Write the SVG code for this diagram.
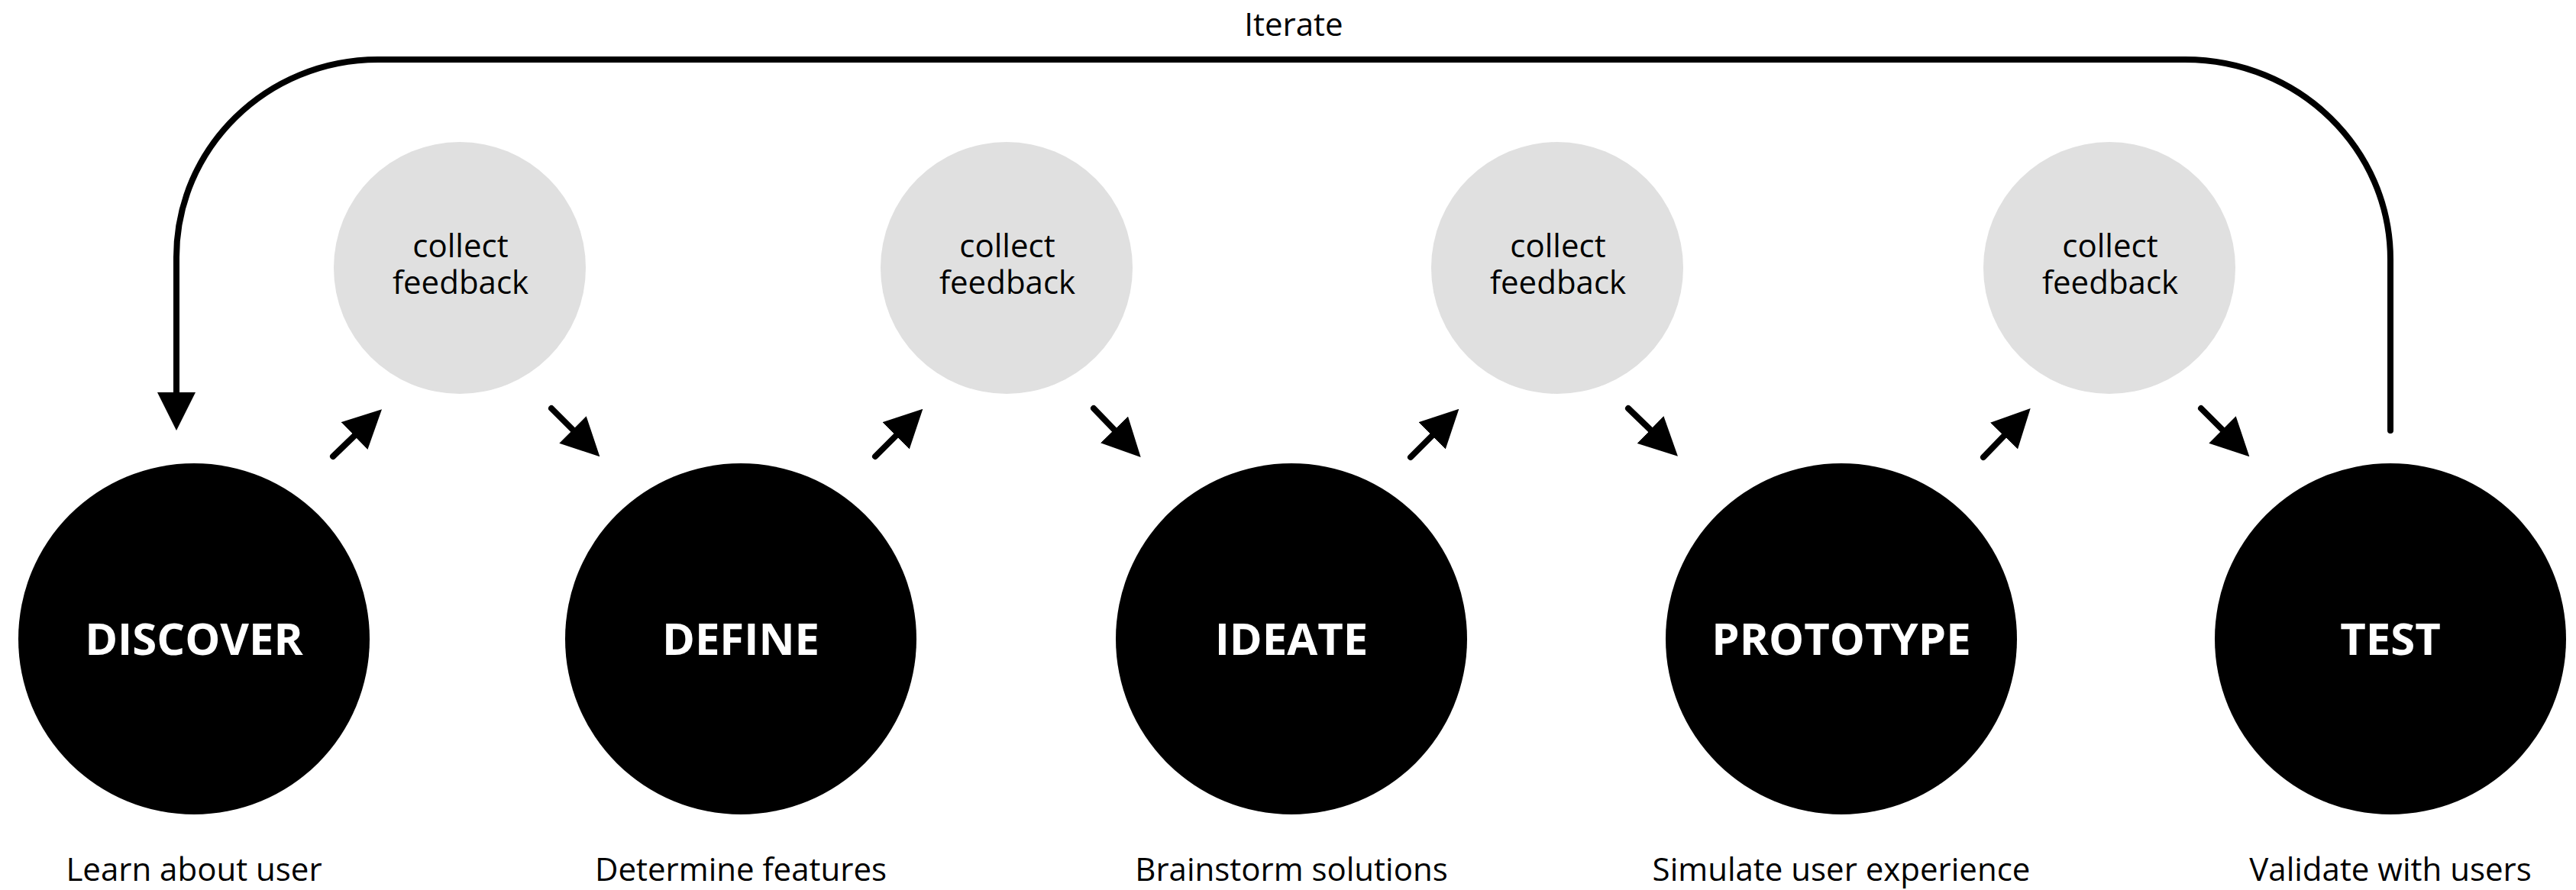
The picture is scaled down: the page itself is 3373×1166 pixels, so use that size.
<svg xmlns="http://www.w3.org/2000/svg" width="3373" height="1166" viewBox="0 0 3373 1166">
<style>
  .stage { fill: #000000; }
  .fb { fill: #e0e0e0; }
  .stage-label { font-family: "Open Sans", "Noto Sans", "Liberation Sans", sans-serif; font-weight: 700; font-size: 58px; fill: #ffffff; text-anchor: middle; }
  .fb-label { font-family: "Open Sans", "Noto Sans", "Liberation Sans", sans-serif; font-size: 42px; fill: #000000; text-anchor: middle; }
  .sub { font-family: "Open Sans", "Noto Sans", "Liberation Sans", sans-serif; font-size: 42px; fill: #000000; text-anchor: middle; }
  .conn { fill: none; stroke: #000000; stroke-width: 8; stroke-linecap: round; stroke-linejoin: round; }
</style>
<defs>
  <marker id="head" viewBox="0 0 50 50" refX="0" refY="25" markerWidth="50" markerHeight="50" markerUnits="userSpaceOnUse" orient="auto">
    <path d="M0,0 L50,25 L0,50 Z" fill="#000000"/>
  </marker>
</defs>
<rect x="0" y="0" width="3373" height="1166" fill="#ffffff"/>

<g id="connectors">
  <path id="iterate-loop" class="conn" d="M3130,564 L3130,340 C3130,195 3010,78 2861,78 L495,78 C349,78 231,194 231,337 L231,514" marker-end="url(#head)"/>
  <text class="fb-label" x="1694" y="47">Iterate</text>
  <line class="conn" x1="436" y1="598" x2="464" y2="571" marker-end="url(#head)"/>
  <line class="conn" x1="722" y1="535" x2="750" y2="563" marker-end="url(#head)"/>
  <line class="conn" x1="1146" y1="598" x2="1173" y2="571" marker-end="url(#head)"/>
  <line class="conn" x1="1432" y1="535" x2="1459" y2="563" marker-end="url(#head)"/>
  <line class="conn" x1="1847" y1="599" x2="1875" y2="571" marker-end="url(#head)"/>
  <line class="conn" x1="2132" y1="535" x2="2161" y2="563" marker-end="url(#head)"/>
  <line class="conn" x1="2597" y1="599" x2="2624" y2="571" marker-end="url(#head)"/>
  <line class="conn" x1="2882" y1="535" x2="2910" y2="563" marker-end="url(#head)"/>
</g>

<g id="discover">
  <circle class="stage" cx="254" cy="837" r="230"/>
  <text class="stage-label" x="254" y="858">DISCOVER</text>
  <text class="sub" x="254" y="1154">Learn about user</text>
</g>
<g id="feedback-1">
  <circle class="fb" cx="602" cy="351" r="165"/>
  <text class="fb-label" x="603" y="337">collect</text>
  <text class="fb-label" x="603" y="385">feedback</text>
</g>
<g id="define">
  <circle class="stage" cx="970" cy="837" r="230"/>
  <text class="stage-label" x="970" y="858">DEFINE</text>
  <text class="sub" x="970" y="1154">Determine features</text>
</g>
<g id="feedback-2">
  <circle class="fb" cx="1318" cy="351" r="165"/>
  <text class="fb-label" x="1319" y="337">collect</text>
  <text class="fb-label" x="1319" y="385">feedback</text>
</g>
<g id="ideate">
  <circle class="stage" cx="1691" cy="837" r="230"/>
  <text class="stage-label" x="1691" y="858">IDEATE</text>
  <text class="sub" x="1691" y="1154">Brainstorm solutions</text>
</g>
<g id="feedback-3">
  <circle class="fb" cx="2039" cy="351" r="165"/>
  <text class="fb-label" x="2040" y="337">collect</text>
  <text class="fb-label" x="2040" y="385">feedback</text>
</g>
<g id="prototype">
  <circle class="stage" cx="2411" cy="837" r="230"/>
  <text class="stage-label" x="2411" y="858">PROTOTYPE</text>
  <text class="sub" x="2411" y="1154">Simulate user experience</text>
</g>
<g id="feedback-4">
  <circle class="fb" cx="2762" cy="351" r="165"/>
  <text class="fb-label" x="2763" y="337">collect</text>
  <text class="fb-label" x="2763" y="385">feedback</text>
</g>
<g id="test">
  <circle class="stage" cx="3130" cy="837" r="230"/>
  <text class="stage-label" x="3130" y="858">TEST</text>
  <text class="sub" x="3130" y="1154">Validate with users</text>
</g>
</svg>
